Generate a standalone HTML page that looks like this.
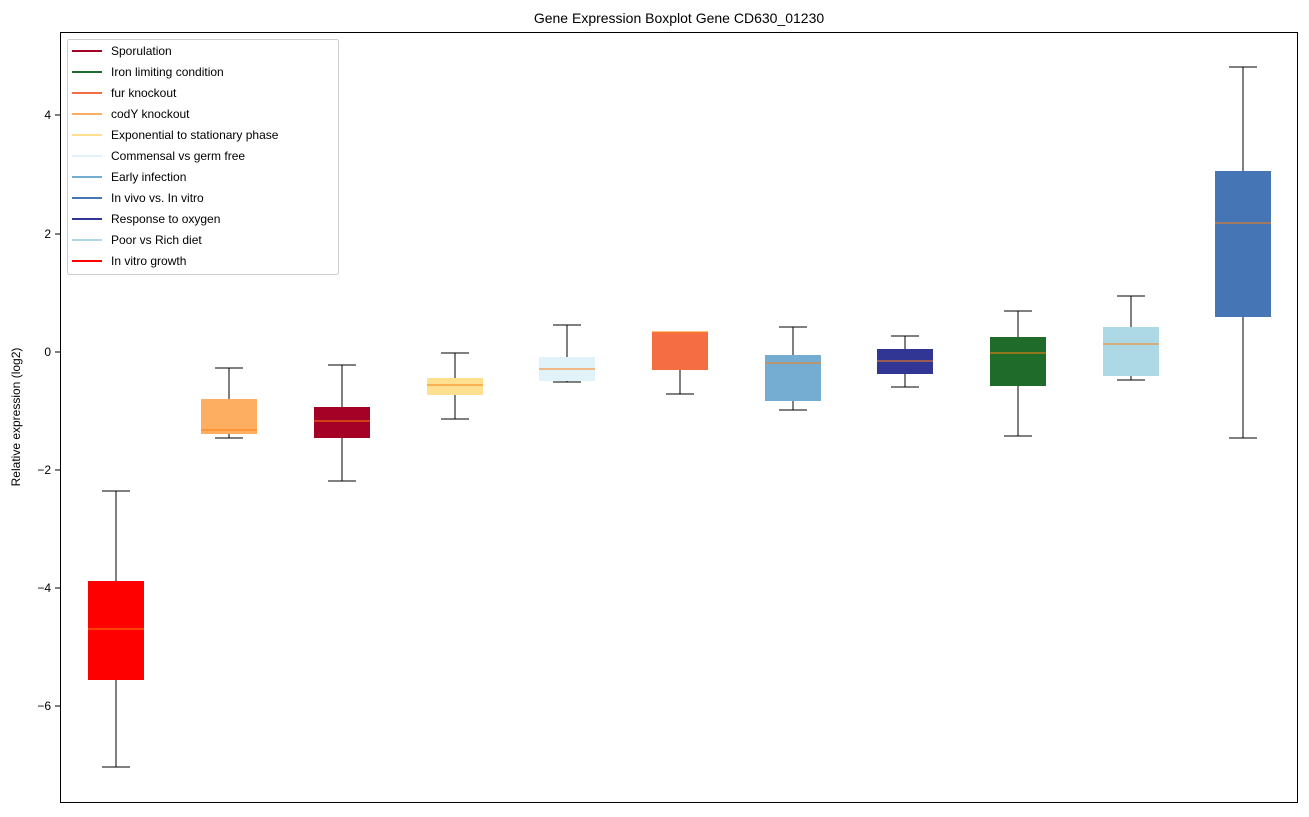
<!DOCTYPE html>
<html><head><meta charset="utf-8"><style>body{margin:0;background:#fff}</style></head><body>
<svg width="1309" height="812" xmlns="http://www.w3.org/2000/svg" font-family="Liberation Sans, DejaVu Sans, sans-serif">
<rect width="1309" height="812" fill="#fff"/>
<text x="679" y="23" text-anchor="middle" font-size="14">Gene Expression Boxplot Gene CD630_01230</text>
<g font-size="12" text-anchor="end">
<line x1="55" x2="60" y1="115" y2="115" stroke="#000"/><text x="51" y="119">4</text>
<line x1="55" x2="60" y1="234" y2="234" stroke="#000"/><text x="51" y="238">2</text>
<line x1="55" x2="60" y1="352" y2="352" stroke="#000"/><text x="51" y="356">0</text>
<line x1="55" x2="60" y1="470" y2="470" stroke="#000"/><text x="51" y="474">−2</text>
<line x1="55" x2="60" y1="588" y2="588" stroke="#000"/><text x="51" y="592">−4</text>
<line x1="55" x2="60" y1="706" y2="706" stroke="#000"/><text x="51" y="710">−6</text>
</g>
<text transform="translate(20,417) rotate(-90)" text-anchor="middle" font-size="12">Relative expression (log2)</text>
<g stroke="#000" stroke-width="1">
<!-- 1 -->
<line x1="116" x2="116" y1="491" y2="581"/><line x1="116" x2="116" y1="680" y2="767"/>
<line x1="102" x2="130" y1="491" y2="491"/><line x1="102" x2="130" y1="767" y2="767"/>
<rect x="88" y="581" width="56" height="99" fill="#ff0000" stroke="none"/>
<line x1="88" x2="144" y1="629" y2="629" stroke="#ff7f0e"/>
<!-- 2 -->
<line x1="229" x2="229" y1="368" y2="399"/><line x1="229" x2="229" y1="434" y2="438"/>
<line x1="215" x2="243" y1="368" y2="368"/><line x1="215" x2="243" y1="438" y2="438"/>
<rect x="201" y="399" width="56" height="35" fill="#fdae61" stroke="none"/>
<line x1="201" x2="257" y1="430" y2="430" stroke="#ff7f0e"/>
<!-- 3 -->
<line x1="342" x2="342" y1="365" y2="407"/><line x1="342" x2="342" y1="438" y2="481"/>
<line x1="328" x2="356" y1="365" y2="365"/><line x1="328" x2="356" y1="481" y2="481"/>
<rect x="314" y="407" width="56" height="31" fill="#a50026" stroke="none"/>
<line x1="314" x2="370" y1="421" y2="421" stroke="#ff7f0e"/>
<!-- 4 -->
<line x1="455" x2="455" y1="353" y2="378"/><line x1="455" x2="455" y1="395" y2="419"/>
<line x1="441" x2="469" y1="353" y2="353"/><line x1="441" x2="469" y1="419" y2="419"/>
<rect x="427" y="378" width="56" height="17" fill="#fee090" stroke="none"/>
<line x1="427" x2="483" y1="385" y2="385" stroke="#ff7f0e"/>
<!-- 5 -->
<line x1="567" x2="567" y1="325" y2="357"/><line x1="567" x2="567" y1="381" y2="382"/>
<line x1="553" x2="581" y1="325" y2="325"/><line x1="553" x2="581" y1="382" y2="382"/>
<rect x="539" y="357" width="56" height="24" fill="#e0f3f8" stroke="none"/>
<line x1="539" x2="595" y1="369" y2="369" stroke="#ff7f0e"/>
<!-- 6 -->
<line x1="680" x2="680" y1="370" y2="394"/>
<line x1="666" x2="694" y1="332" y2="332"/><line x1="666" x2="694" y1="394" y2="394"/>
<rect x="652" y="332" width="56" height="38" fill="#f46d43" stroke="none"/>
<line x1="652" x2="708" y1="332" y2="332" stroke="#ff7f0e"/>
<!-- 7 -->
<line x1="793" x2="793" y1="327" y2="355"/><line x1="793" x2="793" y1="401" y2="410"/>
<line x1="779" x2="807" y1="327" y2="327"/><line x1="779" x2="807" y1="410" y2="410"/>
<rect x="765" y="355" width="56" height="46" fill="#74add1" stroke="none"/>
<line x1="765" x2="821" y1="363" y2="363" stroke="#ff7f0e"/>
<!-- 8 -->
<line x1="905" x2="905" y1="336" y2="349"/><line x1="905" x2="905" y1="374" y2="387"/>
<line x1="891" x2="919" y1="336" y2="336"/><line x1="891" x2="919" y1="387" y2="387"/>
<rect x="877" y="349" width="56" height="25" fill="#313695" stroke="none"/>
<line x1="877" x2="933" y1="361" y2="361" stroke="#ff7f0e"/>
<!-- 9 -->
<line x1="1018" x2="1018" y1="311" y2="337"/><line x1="1018" x2="1018" y1="386" y2="436"/>
<line x1="1004" x2="1032" y1="311" y2="311"/><line x1="1004" x2="1032" y1="436" y2="436"/>
<rect x="990" y="337" width="56" height="49" fill="#1f6b2a" stroke="none"/>
<line x1="990" x2="1046" y1="353" y2="353" stroke="#ff7f0e"/>
<!-- 10 -->
<line x1="1131" x2="1131" y1="296" y2="327"/><line x1="1131" x2="1131" y1="376" y2="380"/>
<line x1="1117" x2="1145" y1="296" y2="296"/><line x1="1117" x2="1145" y1="380" y2="380"/>
<rect x="1103" y="327" width="56" height="49" fill="#add8e6" stroke="none"/>
<line x1="1103" x2="1159" y1="344" y2="344" stroke="#ff7f0e"/>
<!-- 11 -->
<line x1="1243" x2="1243" y1="67" y2="171"/><line x1="1243" x2="1243" y1="317" y2="438"/>
<line x1="1229" x2="1257" y1="67" y2="67"/><line x1="1229" x2="1257" y1="438" y2="438"/>
<rect x="1215" y="171" width="56" height="146" fill="#4575b4" stroke="none"/>
<line x1="1215" x2="1271" y1="223" y2="223" stroke="#ff7f0e"/>
</g>
<rect x="60.5" y="32.5" width="1237" height="770" fill="none" stroke="#000"/>
<rect x="67.5" y="39.5" width="271" height="235" fill="#fff" fill-opacity="0.8" stroke="#ccc" rx="2"/>
<g font-size="12" stroke-width="2">
<line x1="72" x2="102" y1="51" y2="51" stroke="#a50026"/><text x="111" y="55">Sporulation</text>
<line x1="72" x2="102" y1="72" y2="72" stroke="#1f6b2a"/><text x="111" y="76">Iron limiting condition</text>
<line x1="72" x2="102" y1="93" y2="93" stroke="#f46d43"/><text x="111" y="97">fur knockout</text>
<line x1="72" x2="102" y1="114" y2="114" stroke="#fdae61"/><text x="111" y="118">codY knockout</text>
<line x1="72" x2="102" y1="135" y2="135" stroke="#fee090"/><text x="111" y="139">Exponential to stationary phase</text>
<line x1="72" x2="102" y1="156" y2="156" stroke="#e0f3f8"/><text x="111" y="160">Commensal vs germ free</text>
<line x1="72" x2="102" y1="177" y2="177" stroke="#74add1"/><text x="111" y="181">Early infection</text>
<line x1="72" x2="102" y1="198" y2="198" stroke="#4575b4"/><text x="111" y="202">In vivo vs. In vitro</text>
<line x1="72" x2="102" y1="219" y2="219" stroke="#313695"/><text x="111" y="223">Response to oxygen</text>
<line x1="72" x2="102" y1="240" y2="240" stroke="#add8e6"/><text x="111" y="244">Poor vs Rich diet</text>
<line x1="72" x2="102" y1="261" y2="261" stroke="#ff0000"/><text x="111" y="265">In vitro growth</text>
</g>
</svg>
</body></html>
